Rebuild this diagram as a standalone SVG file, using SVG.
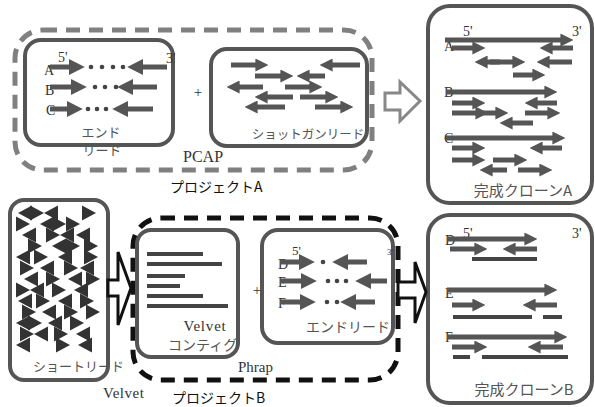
<svg xmlns="http://www.w3.org/2000/svg" xmlns:xlink="http://www.w3.org/1999/xlink" width="595" height="407" viewBox="0 0 595 407">
  <defs>
    <style>
      .box { fill: none; stroke: #555; stroke-width: 4; }
      .dashA { fill: none; stroke: #808080; stroke-width: 5; stroke-dasharray: 14 9; }
      .dashB { fill: none; stroke: #111; stroke-width: 5; stroke-dasharray: 14 9; }
      .a { stroke: #555; stroke-width: 5; marker-end: url(#ah); }
      .ab { stroke: #555; stroke-width: 5; marker-end: url(#ahb); }
      .bar { stroke: #444; stroke-width: 4; }
      .dot { fill: #444; }
      .jp { font-family: "Noto Sans CJK JP", "Noto Sans", sans-serif; fill: #555; }
      .jpk { font-family: "Noto Sans CJK JP", "Noto Sans", sans-serif; fill: #111; }
      .lat { font-family: "Liberation Serif", serif; fill: #333; }
      .hollow { fill: #fff; stroke-width: 3; stroke-linejoin: miter; }
      .tri { fill: #333; }
    </style>
    <marker id="ah" viewBox="0 0 10 10" refX="2" refY="5" markerWidth="2.6" markerHeight="2.6" orient="auto">
      <path d="M0,0 L10,5 L0,10 Z" fill="#555"/>
    </marker>
    <marker id="ahb" viewBox="0 0 10 10" refX="2" refY="5" markerWidth="3.2" markerHeight="3.2" orient="auto">
      <path d="M0,0 L10,5 L0,10 Z" fill="#555"/>
    </marker>
    <path id="tr" d="M0,-7.5 L14,0 L0,7.5 Z"/>
    <path id="tl" d="M14,-7.5 L0,0 L14,7.5 Z"/>
  </defs>

  <!-- Project A (PCAP) -->
  <g id="projectA">
    <rect class="dashA" x="15" y="30" width="357" height="140" rx="28"/>
    <text class="lat" x="183" y="162" font-size="16">PCAP</text>
    <text class="jpk" x="170" y="192" font-size="14">プロジェクトA</text>
  </g>

  <g id="endReadsA">
    <rect class="box" x="25" y="40" width="148" height="105" rx="16"/>
    <text class="lat" x="58" y="62" font-size="14">5'</text>
    <text class="lat" x="166" y="63" font-size="14">3'</text>
    <text class="lat" x="44" y="75" font-size="14">A</text>
    <text class="lat" x="45" y="95" font-size="14">B</text>
    <text class="lat" x="46" y="115" font-size="14">C</text>
    <line class="ab" x1="50" y1="67" x2="72" y2="67"/>
    <line class="ab" x1="167" y1="67" x2="140" y2="67"/>
    <line class="ab" x1="50" y1="87" x2="74" y2="87"/>
    <line class="ab" x1="157" y1="87" x2="130" y2="87"/>
    <line class="ab" x1="50" y1="109" x2="70" y2="109"/>
    <line class="ab" x1="153" y1="109" x2="125" y2="109"/>
    <circle class="dot" cx="91" cy="67" r="2.3"/>
    <circle class="dot" cx="102" cy="67" r="2.3"/>
    <circle class="dot" cx="113" cy="67" r="2.3"/>
    <circle class="dot" cx="123" cy="67" r="2.3"/>
    <circle class="dot" cx="95" cy="87" r="2.3"/>
    <circle class="dot" cx="105" cy="87" r="2.3"/>
    <circle class="dot" cx="116" cy="87" r="2.3"/>
    <circle class="dot" cx="88" cy="109" r="2.3"/>
    <circle class="dot" cx="97" cy="109" r="2.3"/>
    <circle class="dot" cx="106" cy="109" r="2.3"/>
    <text class="jp" x="101" y="137" font-size="13" text-anchor="middle">エンド</text>
    <text class="jp" x="102" y="155" font-size="13" text-anchor="middle">リード</text>
  </g>

  <text class="lat" x="198" y="97" font-size="15" text-anchor="middle" fill="#111">+</text>

  <g id="shotgunReads">
    <rect class="box" x="211" y="49" width="156" height="97" rx="16"/>
    <line class="a" x1="231" y1="65" x2="258" y2="65"/>
    <line class="a" x1="360" y1="65" x2="330" y2="65"/>
    <line class="a" x1="255" y1="76" x2="283" y2="76"/>
    <line class="a" x1="325" y1="76" x2="307" y2="76"/>
    <line class="a" x1="263" y1="87" x2="237" y2="87"/>
    <line class="a" x1="285" y1="87" x2="312" y2="87"/>
    <line class="a" x1="293" y1="97" x2="265" y2="97"/>
    <line class="a" x1="300" y1="97" x2="328" y2="97"/>
    <line class="a" x1="285" y1="107" x2="255" y2="107"/>
    <line class="a" x1="315" y1="107" x2="343" y2="107"/>
    <text class="jp" x="308" y="139" font-size="12.5" text-anchor="middle">ショットガンリード</text>
  </g>

  <g id="cloneA">
    <rect class="box" x="428" y="6" width="164" height="197" rx="22"/>
    <text class="lat" x="463" y="36" font-size="14">5'</text>
    <text class="lat" x="572" y="36" font-size="14">3'</text>
    <text class="lat" x="444" y="51" font-size="14">A</text>
    <line class="a" x1="445" y1="40" x2="563" y2="40"/>
    <line class="a" x1="452" y1="48" x2="475" y2="48"/>
    <line class="a" x1="573" y1="48" x2="550" y2="48"/>
    <line class="a" x1="500" y1="62" x2="485" y2="62"/>
    <line class="a" x1="490" y1="62" x2="515" y2="62"/>
    <line class="a" x1="572" y1="62" x2="547" y2="62"/>
    <line class="a" x1="513" y1="75" x2="535" y2="75"/>
    <text class="lat" x="444" y="97" font-size="14">B</text>
    <line class="a" x1="446" y1="92" x2="547" y2="92"/>
    <line class="a" x1="452" y1="103" x2="475" y2="103"/>
    <line class="a" x1="557" y1="103" x2="535" y2="103"/>
    <line class="a" x1="452" y1="113" x2="478" y2="113"/>
    <line class="a" x1="480" y1="113" x2="498" y2="113"/>
    <line class="a" x1="525" y1="113" x2="550" y2="113"/>
    <line class="a" x1="533" y1="123" x2="510" y2="123"/>
    <text class="lat" x="444" y="143" font-size="14">C</text>
    <line class="a" x1="446" y1="138" x2="555" y2="138"/>
    <line class="a" x1="452" y1="148" x2="475" y2="148"/>
    <line class="a" x1="562" y1="148" x2="540" y2="148"/>
    <line class="a" x1="452" y1="160" x2="475" y2="160"/>
    <line class="a" x1="493" y1="160" x2="517" y2="160"/>
    <line class="a" x1="507" y1="170" x2="490" y2="170"/>
    <line class="a" x1="518" y1="170" x2="542" y2="170"/>
    <text class="jp" x="523" y="196" font-size="15" text-anchor="middle">完成クローンA</text>
  </g>

  <!-- Project B (Velvet + Phrap) -->
  <g id="shortReads">
    <rect class="box" x="10" y="200" width="98" height="180" rx="14" stroke="#444"/>
    <g class="tri">
      <use xlink:href="#tl" x="18" y="213"/><use xlink:href="#tr" x="30" y="213"/><use xlink:href="#tl" x="44" y="213"/><use xlink:href="#tr" x="82" y="213"/>
      <use xlink:href="#tr" x="16" y="224"/><use xlink:href="#tl" x="40" y="224"/><use xlink:href="#tr" x="52" y="224"/><use xlink:href="#tr" x="66" y="224"/>
      <use xlink:href="#tl" x="22" y="235"/><use xlink:href="#tr" x="46" y="235"/><use xlink:href="#tl" x="60" y="235"/><use xlink:href="#tl" x="76" y="235"/>
      <use xlink:href="#tr" x="28" y="246"/><use xlink:href="#tl" x="52" y="246"/><use xlink:href="#tr" x="66" y="246"/><use xlink:href="#tr" x="84" y="246"/>
      <use xlink:href="#tl" x="16" y="257"/><use xlink:href="#tr" x="34" y="257"/><use xlink:href="#tl" x="58" y="257"/><use xlink:href="#tr" x="84" y="257"/>
      <use xlink:href="#tr" x="20" y="268"/><use xlink:href="#tl" x="40" y="268"/><use xlink:href="#tr" x="64" y="268"/><use xlink:href="#tl" x="80" y="268"/>
      <use xlink:href="#tl" x="24" y="279"/><use xlink:href="#tr" x="46" y="279"/><use xlink:href="#tl" x="68" y="279"/><use xlink:href="#tr" x="86" y="279"/>
      <use xlink:href="#tr" x="16" y="290"/><use xlink:href="#tl" x="30" y="290"/><use xlink:href="#tr" x="52" y="290"/><use xlink:href="#tl" x="74" y="290"/>
      <use xlink:href="#tl" x="18" y="301"/><use xlink:href="#tr" x="36" y="301"/><use xlink:href="#tl" x="58" y="301"/><use xlink:href="#tr" x="80" y="301"/>
      <use xlink:href="#tr" x="22" y="312"/><use xlink:href="#tl" x="42" y="312"/><use xlink:href="#tr" x="64" y="312"/><use xlink:href="#tr" x="86" y="312"/>
      <use xlink:href="#tl" x="16" y="323"/><use xlink:href="#tr" x="28" y="323"/><use xlink:href="#tl" x="48" y="323"/><use xlink:href="#tr" x="70" y="323"/>
      <use xlink:href="#tr" x="20" y="334"/><use xlink:href="#tl" x="34" y="334"/><use xlink:href="#tr" x="54" y="334"/><use xlink:href="#tl" x="76" y="334"/>
      <use xlink:href="#tl" x="16" y="345"/><use xlink:href="#tr" x="56" y="345"/><use xlink:href="#tl" x="78" y="345"/>
    </g>
    <text class="jp" x="33" y="371" font-size="13">ショートリード</text>
  </g>
  <text class="lat" x="103" y="398" font-size="15" letter-spacing="0.5">Velvet</text>

  <g id="projectB">
    <rect class="dashB" x="133" y="218" width="265" height="162" rx="28"/>
    <text class="lat" x="238" y="372" font-size="15">Phrap</text>
    <text class="jpk" x="172" y="403" font-size="14">プロジェクトB</text>
  </g>

  <g id="contigs">
    <rect class="box" x="137" y="230" width="101" height="127" rx="14" stroke="#444"/>
    <line class="bar" x1="147" y1="254" x2="203" y2="254"/>
    <line class="bar" x1="147" y1="264" x2="222" y2="264"/>
    <line class="bar" x1="147" y1="276" x2="185" y2="276"/>
    <line class="bar" x1="147" y1="286" x2="180" y2="286"/>
    <line class="bar" x1="147" y1="296" x2="203" y2="296"/>
    <line class="bar" x1="147" y1="306" x2="228" y2="306"/>
    <text class="lat" x="205" y="331" font-size="15" letter-spacing="0.8" text-anchor="middle">Velvet</text>
    <text class="jp" x="168" y="350" font-size="14">コンティグ</text>
  </g>

  <text class="lat" x="257" y="295" font-size="15" text-anchor="middle" fill="#111">+</text>

  <g id="endReadsB">
    <rect class="box" x="262" y="230" width="131" height="113" rx="16"/>
    <text class="lat" x="292" y="255" font-size="13">5'</text>
    <text class="lat" x="387" y="255" font-size="9">3'</text>
    <text class="lat" x="278" y="269" font-size="14">D</text>
    <text class="lat" x="278" y="287" font-size="14">E</text>
    <text class="lat" x="278" y="308" font-size="14">F</text>
    <line class="ab" x1="280" y1="262" x2="302" y2="262"/>
    <line class="ab" x1="367" y1="262" x2="345" y2="262"/>
    <line class="ab" x1="280" y1="281" x2="304" y2="281"/>
    <line class="ab" x1="387" y1="281" x2="368" y2="281"/>
    <line class="ab" x1="280" y1="302" x2="303" y2="302"/>
    <line class="ab" x1="375" y1="302" x2="353" y2="302"/>
    <circle class="dot" cx="323" cy="262" r="2.3"/>
    <circle class="dot" cx="328" cy="281" r="2.3"/>
    <circle class="dot" cx="337" cy="281" r="2.3"/>
    <circle class="dot" cx="346" cy="281" r="2.3"/>
    <circle class="dot" cx="327" cy="302" r="2.3"/>
    <circle class="dot" cx="337" cy="302" r="2.3"/>
    <text class="jp" x="348" y="332" font-size="14" text-anchor="middle">エンドリード</text>
  </g>

  <g id="cloneB">
    <rect class="box" x="428" y="215" width="164" height="188" rx="22"/>
    <text class="lat" x="463" y="238" font-size="14">5'</text>
    <text class="lat" x="572" y="238" font-size="14">3'</text>
    <text class="lat" x="445" y="245" font-size="14">D</text>
    <line class="a" x1="447" y1="239" x2="527" y2="239"/>
    <line class="a" x1="450" y1="249" x2="477" y2="249"/>
    <line class="a" x1="537" y1="249" x2="513" y2="249"/>
    <line class="bar" x1="472" y1="259" x2="537" y2="259"/>
    <text class="lat" x="445" y="298" font-size="14">E</text>
    <line class="a" x1="447" y1="290" x2="547" y2="290"/>
    <line class="a" x1="452" y1="305" x2="475" y2="305"/>
    <line class="a" x1="557" y1="305" x2="533" y2="305"/>
    <line class="bar" x1="453" y1="317" x2="532" y2="317"/>
    <line class="bar" x1="543" y1="317" x2="562" y2="317"/>
    <text class="lat" x="445" y="342" font-size="14">F</text>
    <line class="a" x1="447" y1="337" x2="557" y2="337"/>
    <line class="a" x1="452" y1="347" x2="477" y2="347"/>
    <line class="a" x1="563" y1="347" x2="538" y2="347"/>
    <line class="bar" x1="453" y1="357" x2="470" y2="357"/>
    <line class="bar" x1="482" y1="357" x2="568" y2="357"/>
    <text class="jp" x="524" y="395" font-size="15" text-anchor="middle">完成クローンB</text>
  </g>

  <!-- hollow block arrows between stages -->
  <g id="connectors">
    <path class="hollow" stroke="#888" d="M385,93 H400 V82 L420,101 L400,121 V110 H385 Z"/>
    <path class="hollow" stroke="#111" d="M108,280 H118 V252 L131,288 L118,325 V296 H108 Z"/>
    <path class="hollow" stroke="#111" d="M398,282 H415 V262 L426,292 L415,323 V298 H398 Z"/>
  </g>
</svg>
